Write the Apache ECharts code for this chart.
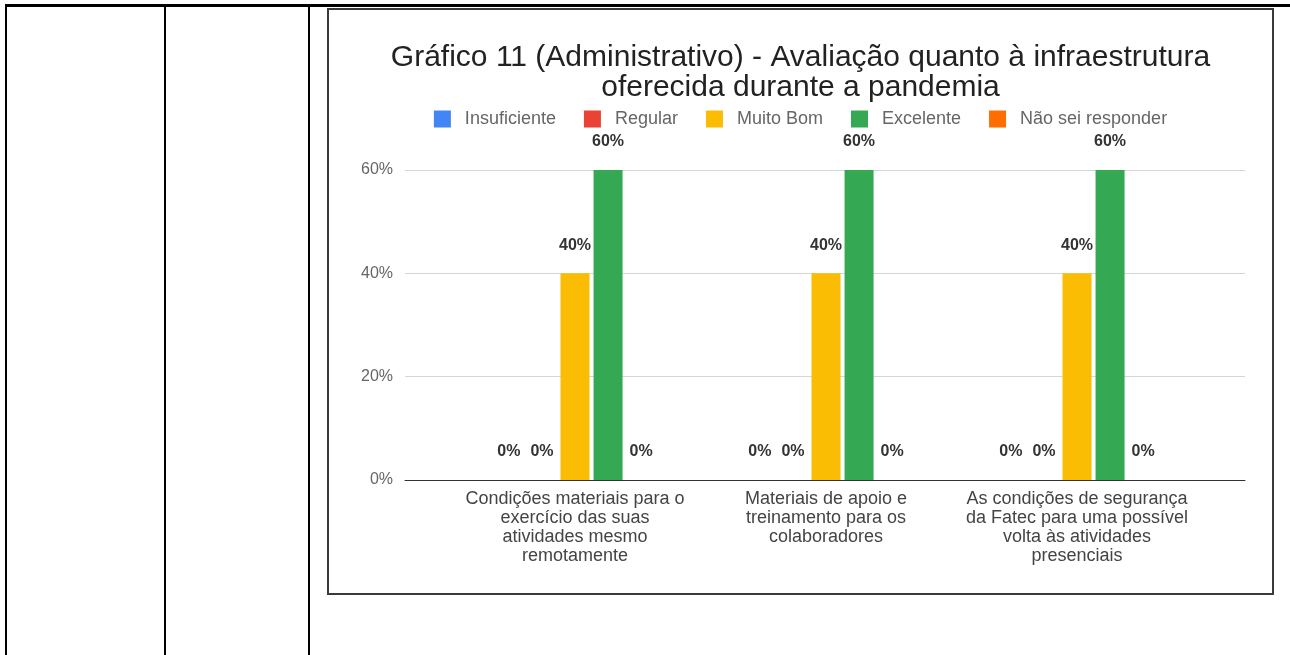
<!DOCTYPE html>
<html>
<head>
<meta charset="utf-8">
<script src="https://cdn.jsdelivr.net/npm/echarts@6/dist/echarts.min.js"></script>
<style>
    html, body {
        margin: 0;
        padding: 0;
        width: 1290px;
        height: 655px;
        background: #fff;
        overflow: hidden;
        position: relative;
    }
    .line {
        position: absolute;
        background: #000;
    }
    #box {
        position: absolute;
        left: 327px;
        top: 8px;
        width: 947px;
        height: 587px;
        box-sizing: border-box;
        border: 2px solid #3a3a3a;
    }
    #chart {
        width: 100%;
        height: 100%;
    }
</style>
</head>
<body>
<!-- linhas da tabela -->
<div class="line" style="left:5px;top:4px;width:1285px;height:3px;"></div>
<div class="line" style="left:5px;top:4px;width:2px;height:651px;"></div>
<div class="line" style="left:164px;top:4px;width:2px;height:651px;"></div>
<div class="line" style="left:308px;top:4px;width:2px;height:651px;"></div>

<div id="box"><div id="chart"></div></div>

<script>
// categorias (eixo x)
const categorias = [
    'Condições materiais para o\nexercício das suas\natividades mesmo\nremotamente',
    'Materiais de apoio e\ntreinamento para os\ncolaboradores',
    'As condições de segurança\nda Fatec para uma possível\nvolta às atividades\npresenciais'
]
// valores em %
const insuficiente = [0, 0, 0]
const regular = [0, 0, 0]
const muitoBom = [40, 40, 40]
const excelente = [60, 60, 60]
const naoSei = [0, 0, 0]
const yTicks = [0, 20, 40, 60]

const nomes = ['Insuficiente', 'Regular', 'Muito Bom', 'Excelente', 'Não sei responder']
const cores = ['#4285F4', '#EA4335', '#FBBC04', '#34A853', '#FF6D01']
const valores = [insuficiente, regular, muitoBom, excelente, naoSei]

const fonte = 'Liberation Sans, Arial, sans-serif'

let myChart = echarts.init(document.getElementById('chart'))

let series = nomes.map((nome, i) => ({
    name: nome,
    type: 'bar',
    xAxisIndex: 1,
    yAxisIndex: 1,
    barWidth: 29,
    barGap: '14%',
    itemStyle: { color: cores[i] },
    label: {
        show: true,
        position: 'top',
        distance: 20,
        formatter: '{c}%',
        fontFamily: fonte,
        fontSize: 16,
        fontWeight: 'bold',
        color: '#333'
    },
    data: valores[i]
}))

let option = {
    color: cores,
    animation: false,
    title: {
        text: 'Gráfico 11 (Administrativo) - Avaliação quanto à infraestrutura\noferecida durante a pandemia',
        left: 'center',
        top: 28,
        textStyle: {
            fontFamily: fonte,
            fontSize: 30,
            fontWeight: 'normal',
            color: '#222',
            lineHeight: 30
        }
    },
    legend: {
        data: nomes,
        top: 95,
        left: 'center',
        icon: 'rect',
        itemWidth: 17,
        itemHeight: 17,
        itemGap: 28,
        textStyle: {
            fontFamily: fonte,
            fontSize: 18,
            color: '#666',
            padding: [0, 0, 0, 9]
        }
    },
    grid: [
        { left: 76, right: 27, top: 160, bottom: 113 },
        { left: 120.5, right: 69.5, top: 160, bottom: 113 }
    ],
    xAxis: [
        {
            type: 'value',
            gridIndex: 0,
            min: 0,
            max: 1,
            axisLine: { show: true, onZero: false, lineStyle: { color: '#333', width: 1 } },
            axisTick: { show: false },
            axisLabel: { show: false },
            splitLine: { show: false }
        },
        {
            type: 'category',
            gridIndex: 1,
            data: categorias,
            axisLine: { show: false },
            axisTick: { show: false },
            axisLabel: {
                interval: 0,
                margin: 10,
                fontFamily: fonte,
                fontSize: 18,
                lineHeight: 19,
                color: '#444',
                align: 'center'
            }
        }
    ],
    yAxis: [
        {
            type: 'value',
            gridIndex: 0,
            min: yTicks[0],
            max: yTicks[yTicks.length - 1],
            interval: 20,
            axisLine: { show: false },
            axisTick: { show: false },
            axisLabel: {
                margin: 12,
                formatter: '{value}%',
                fontFamily: fonte,
                fontSize: 16,
                color: '#666'
            },
            splitLine: { lineStyle: { color: '#d6d6d6', width: 1 } }
        },
        {
            type: 'value',
            gridIndex: 1,
            min: yTicks[0],
            max: yTicks[yTicks.length - 1],
            interval: 20,
            show: false,
            splitLine: { show: false }
        }
    ],
    series: series
}
myChart.setOption(option)
</script>
</body>
</html>
